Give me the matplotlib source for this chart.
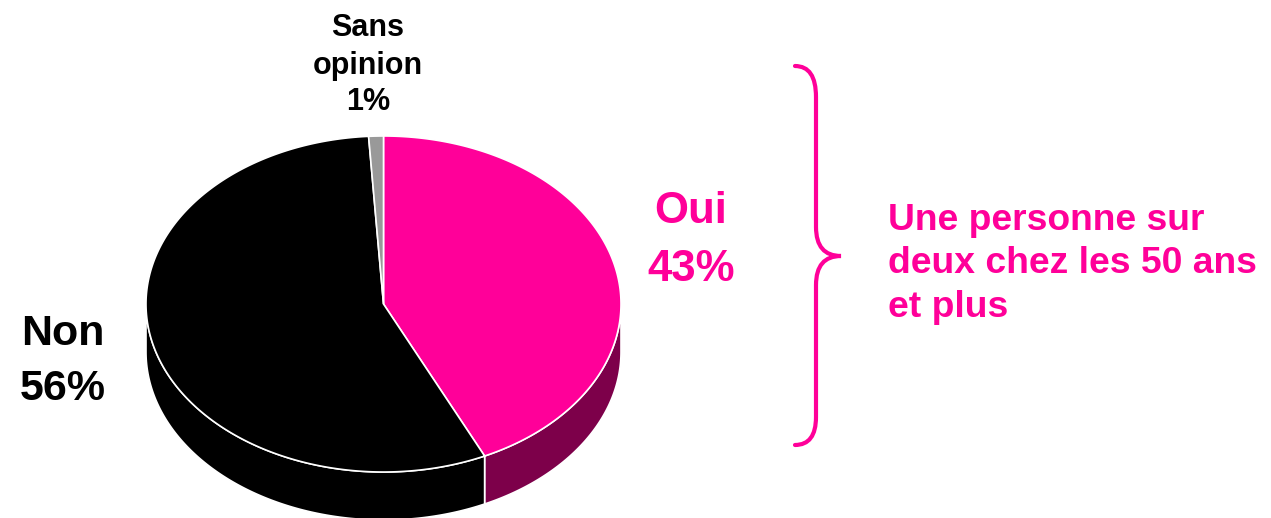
import numpy as np
import matplotlib
matplotlib.use('Agg')
import matplotlib.pyplot as plt
from matplotlib.patches import Polygon, PathPatch
from matplotlib.path import Path

plt.rcParams['font.family'] = ['Liberation Sans', 'DejaVu Sans']

# data
labels = ['Oui', 'Non', 'Sans opinion']
values = [43, 56, 1]
top_colors = ['#FF0099', '#000000', '#999999']
side_colors = ['#7D004A', '#000000', '#555555']

note_lines = ['Une personne sur', 'deux chez les 50 ans', 'et plus']

PINK = '#FF0099'

# pie geometry in pixel units
cx, cy = 383.5, 304.0
a, b = 237.5, 168.0
depth = 48.0


def pt(theta, dy=0.0):
    # theta in degrees, clockwise from 12 o'clock
    t = np.radians(theta)
    return cx + a * np.sin(t), cy - b * np.cos(t) + dy


fig = plt.figure(figsize=(12.71, 5.18), dpi=100)
ax = fig.add_axes([0, 0, 1, 1])
ax.set_xlim(0, 1271)
ax.set_ylim(518, 0)
ax.axis('off')

fracs = np.array(values) / float(sum(values))
edges = np.concatenate([[0], np.cumsum(fracs)]) * 360.0

# side walls (only the front half, 90..270 deg, is visible)
for i in range(len(values)):
    t0 = max(edges[i], 90.0)
    t1 = min(edges[i + 1], 270.0)
    if t1 <= t0:
        continue
    th = np.linspace(t0, t1, 200)
    upper = [pt(t) for t in th]
    lower = [pt(t, depth) for t in th[::-1]]
    ax.add_patch(Polygon(upper + lower, closed=True, facecolor=side_colors[i],
                         edgecolor='white', linewidth=1.2, zorder=1))

# top faces
for i in range(len(values)):
    th = np.linspace(edges[i], edges[i + 1], max(int(edges[i + 1] - edges[i]) * 3, 10))
    verts = [(cx, cy)] + [pt(t) for t in th]
    ax.add_patch(Polygon(verts, closed=True, facecolor=top_colors[i],
                         edgecolor='white', linewidth=1.2, zorder=2))

# labels
kw = dict(fontweight='bold', ha='center', va='baseline')
ax.text(368, 36, 'Sans', fontsize=22, color='black', **kw)
ax.text(368, 74, 'opinion', fontsize=22, color='black', **kw)
ax.text(368, 110, '%d%%' % values[2], fontsize=22, color='black', **kw)

ax.text(691, 223, labels[0], fontsize=31.5, color=PINK, **kw)
ax.text(691, 281, '%d%%' % values[0], fontsize=31.5, color=PINK, **kw)

ax.text(63, 345, labels[1], fontsize=31, color='black', **kw)
ax.text(63, 400, '%d%%' % values[1], fontsize=31, color='black', **kw)

for y, line in zip([230, 273, 317], note_lines):
    ax.text(888, y, line, fontsize=26.8, color=PINK, fontweight='bold',
            ha='left', va='baseline')

# curly brace
bx0, bx1, bx2 = 795, 816, 841
verts = [(bx0, 66), (bx1, 66), (bx1, 97),
         (bx1, 227),
         (bx1, 256), (bx2, 256),
         (bx1, 256), (bx1, 285),
         (bx1, 417),
         (bx1, 445), (bx0, 445)]
codes = [Path.MOVETO, Path.CURVE3, Path.CURVE3,
         Path.LINETO,
         Path.CURVE3, Path.CURVE3,
         Path.CURVE3, Path.CURVE3,
         Path.LINETO,
         Path.CURVE3, Path.CURVE3]
ax.add_patch(PathPatch(Path(verts, codes), facecolor='none', edgecolor=PINK,
                       linewidth=3, capstyle='round'))

plt.savefig('out.png', dpi=100)
